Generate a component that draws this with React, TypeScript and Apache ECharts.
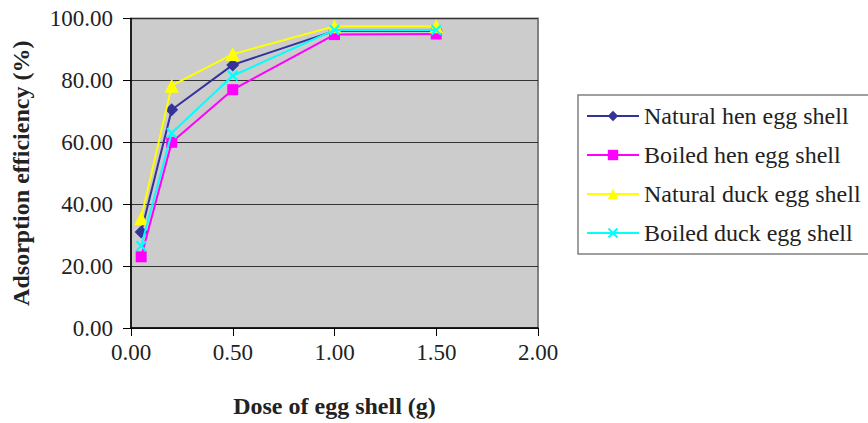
import React, { useEffect, useRef } from "react";
import * as echarts from "echarts";

const doses = [0.05, 0.2, 0.5, 1.0, 1.5];
const seriesNames = [
  "Natural hen egg shell",
  "Boiled hen egg shell",
  "Natural duck egg shell",
  "Boiled duck egg shell",
];
const naturalHen = [31.0, 70.5, 85.0, 96.0, 96.0];
const boiledHen = [23.0, 60.0, 77.0, 94.8, 95.0];
const naturalDuck = [35.5, 78.3, 88.5, 97.5, 97.5];
const boiledDuck = [26.5, 63.0, 81.5, 96.3, 96.3];

const FONT = "'Liberation Serif', 'Times New Roman', serif";
const X_SYMBOL =
  "path://M0,1.4L1.4,0L5,3.6L8.6,0L10,1.4L6.4,5L10,8.6L8.6,10L5,6.4L1.4,10L0,8.6L3.6,5Z";

export default function App() {
  const ref = useRef<HTMLDivElement>(null);
  useEffect(() => {
    document.body.style.margin = "0";
    const chart = echarts.init(ref.current!, null, { renderer: "svg" });
    const values = [naturalHen, boiledHen, naturalDuck, boiledDuck];
    const colors = ["#333399", "#FF00FF", "#FFFF00", "#00FFFF"];
    const symbols = ["diamond", "rect", "triangle", X_SYMBOL];
    const sizes = [13, 11, 14, 11];
    chart.setOption({
      animation: false,
      backgroundColor: "#ffffff",
      textStyle: { fontFamily: FONT },
      grid: {
        left: 131,
        top: 18.5,
        width: 407,
        height: 311.5,
        show: true,
        backgroundColor: "#CCCCCC",
        borderColor: "#808080",
        borderWidth: 2,
      },
      legend: {
        orient: "vertical",
        left: 578,
        top: 95,
        padding: [8, 40, 8, 8],
        itemGap: 13,
        itemWidth: 52,
        itemHeight: 13,
        borderColor: "#808080",
        borderWidth: 1.5,
        textStyle: {
          fontFamily: FONT,
          fontSize: 24,
          color: "#222",
          lineHeight: 26,
        },
        data: seriesNames,
      },
      xAxis: {
        type: "value",
        min: 0,
        max: 2,
        interval: 0.5,
        name: "Dose of egg shell (g)",
        nameLocation: "middle",
        nameGap: 66,
        nameTextStyle: {
          fontFamily: FONT,
          fontSize: 24,
          fontWeight: "bold",
          color: "#222",
        },
        axisLine: { show: true, onZero: false, lineStyle: { color: "#000", width: 1.5 } },
        axisTick: { show: true, inside: false, length: 8, lineStyle: { color: "#000" } },
        axisLabel: {
          fontFamily: FONT,
          fontSize: 23,
          color: "#222",
          margin: 13,
          formatter: (v: number) => v.toFixed(2),
        },
        splitLine: { show: false },
      },
      yAxis: {
        type: "value",
        min: 0,
        max: 100,
        interval: 20,
        name: "Adsorption efficiency (%)",
        nameLocation: "middle",
        nameRotate: 90,
        nameGap: 98,
        nameTextStyle: {
          fontFamily: FONT,
          fontSize: 24,
          fontWeight: "bold",
          color: "#222",
        },
        axisLine: { show: true, onZero: false, lineStyle: { color: "#000", width: 1.5 } },
        axisTick: { show: true, inside: false, length: 8, lineStyle: { color: "#000" } },
        axisLabel: {
          fontFamily: FONT,
          fontSize: 23,
          color: "#222",
          margin: 18,
          formatter: (v: number) => v.toFixed(2),
        },
        splitLine: { show: true, lineStyle: { color: "#333", width: 1 } },
      },
      series: seriesNames.map((name, i) => ({
        name,
        type: "line",
        data: doses.map((d, j) => [d, values[i][j]]),
        symbol: symbols[i],
        symbolSize: sizes[i],
        showAllSymbol: true,
        lineStyle: { color: colors[i], width: 2 },
        itemStyle: { color: colors[i], opacity: 1 },
        color: colors[i],
        z: 3 + i,
      })),
    });
    return () => chart.dispose();
  }, []);
  return <div ref={ref} style={{ width: 868, height: 423 }} />;
}
